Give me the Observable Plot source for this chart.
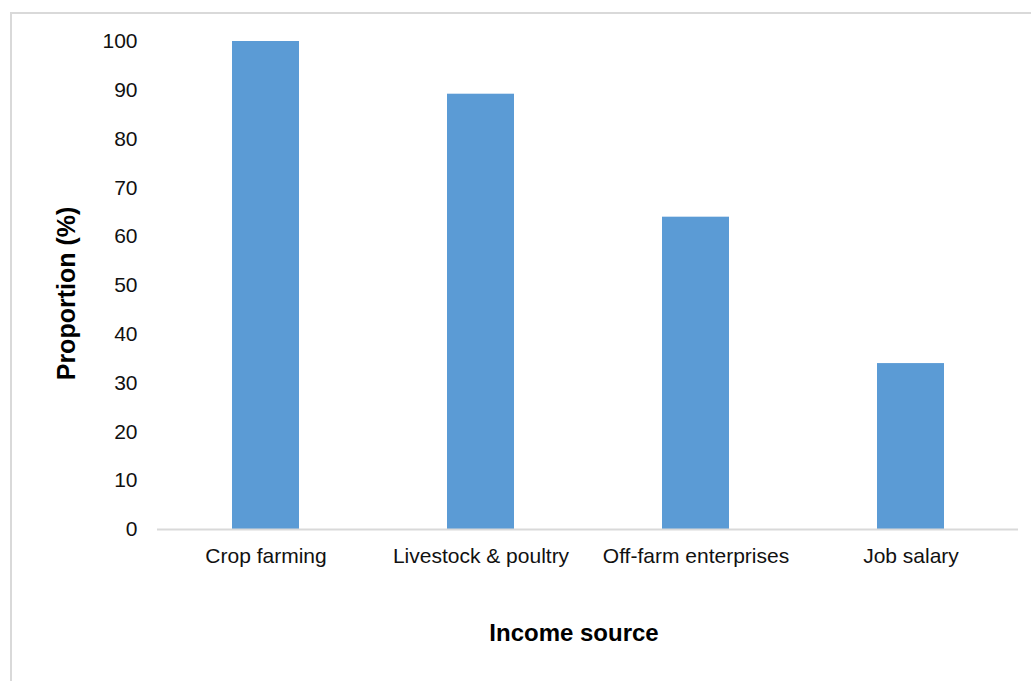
<!DOCTYPE html>
<html>
<head>
<meta charset="utf-8">
<script src="https://cdn.jsdelivr.net/npm/d3@7"></script>
<script src="https://cdn.jsdelivr.net/npm/@observablehq/plot@0.6"></script>
<style>
  html, body { margin: 0; padding: 0; background: #fff; }
  #wrap { position: relative; width: 1031px; height: 681px; overflow: hidden; }
  #border { position: absolute; left: 10px; top: 12px; width: 1040px; height: 700px;
            border-top: 2px solid #d9d9d9; border-left: 2px solid #d9d9d9; box-sizing: border-box; }
  #chart { position: absolute; left: 0; top: 0; }
</style>
</head>
<body>
<div id="wrap"><div id="border"></div><div id="chart"></div></div>
<script>
const categories = ["Crop farming", "Livestock & poultry", "Off-farm enterprises", "Job salary"];
const values = [100, 89.2, 64, 34];
const yTicks = [0, 10, 20, 30, 40, 50, 60, 70, 80, 90, 100];
const yLabel = "Proportion (%)";
const xLabel = "Income source";

const data = categories.map((c, i) => ({category: c, value: values[i]}));
const font = "'Liberation Sans', Arial, sans-serif";

const chart = Plot.plot({
  width: 1031,
  height: 681,
  marginLeft: 157,
  marginRight: 13,
  marginTop: 41,
  marginBottom: 152,
  style: {background: "transparent", fontFamily: font, fontSize: "21px", color: "#111"},
  x: {domain: categories, paddingInner: 0.69, paddingOuter: 0.345, label: null},
  y: {domain: [0, 100], label: null},
  marks: [
    Plot.axisY({ticks: yTicks, tickSize: 0, tickPadding: 20, fontSize: 21, label: null}),
    Plot.axisX({tickSize: 0, tickPadding: 19, fontSize: 21, label: null}),
    Plot.barY(data, {x: "category", y: "value", fill: "#5B9BD5"}),
    Plot.ruleY([0], {stroke: "#d9d9d9", strokeWidth: 2}),
    Plot.text([yLabel], {frameAnchor: "left", textAnchor: "middle", dx: -91, dy: 8, rotate: -90, fontWeight: "bold", fontSize: 25, fill: "#000"}),
    Plot.text([xLabel], {frameAnchor: "bottom", dx: -14, dy: 111, fontWeight: "bold", fontSize: 24, fill: "#000"})
  ]
});
document.getElementById("chart").appendChild(chart);
</script>
</body>
</html>
